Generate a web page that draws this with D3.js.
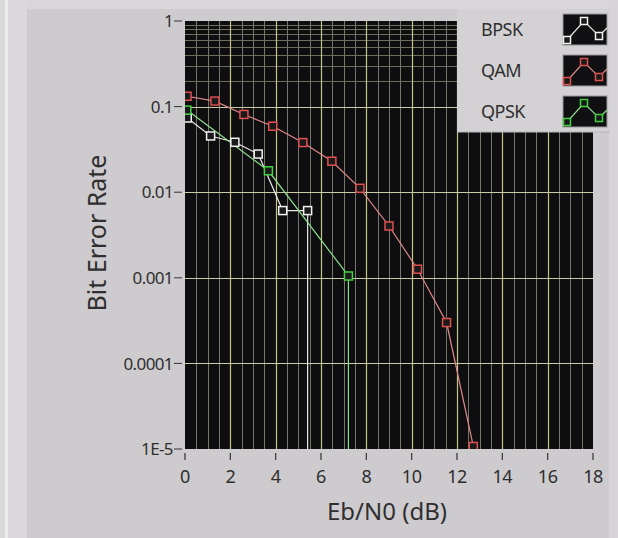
<!DOCTYPE html>
<html>
<head>
<meta charset="utf-8">
<script src="https://cdn.jsdelivr.net/npm/d3@7"></script>
<style>
  body { margin: 0; background: #cecbce; }
  svg text { font-family: "Noto Sans", "Open Sans", sans-serif; fill: #2f2f2f; }
</style>
</head>
<body>
<div id="chart"></div>
<script>
// BER curves
var seriesNames = ["BPSK", "QAM", "QPSK"];
var seriesColors = ["#f2f2f2", "#e05050", "#44d044"];
var lineColors = ["#e8e8e8", "#e08a8a", "#8fe08f"];

var bpskX = [0.1, 1.13, 2.2, 3.23, 4.31, 5.41, 5.41];
var bpskY = [0.0736, 0.0454, 0.0383, 0.0279, 0.0061, 0.0061, 0];

var qamX = [0.09, 1.32, 2.6, 3.87, 5.2, 6.48, 7.72, 9.0, 10.26, 11.54, 12.72];
var qamY = [0.132, 0.116, 0.081, 0.059, 0.038, 0.023, 0.0111, 0.00403, 0.00126, 0.0003, 1.07e-5];

var qpskX = [0.08, 3.68, 7.21, 7.21];
var qpskY = [0.091, 0.0178, 0.00105, 0];

var xTicks = [0, 2, 4, 6, 8, 10, 12, 14, 16, 18];
var yTicks = [1, 0.1, 0.01, 0.001, 0.0001, 1e-5];
var yTickLabels = ["1", "0.1", "0.01", "0.001", "0.0001", "1E-5"];
// minor grid is only drawn in the top decade on the original
var yMinor = [0.9, 0.8, 0.7, 0.6, 0.5, 0.4, 0.3, 0.2];

var svgWidth = 618;
var svgHeight = 538;

var margin = { top: 21, right: 25, bottom: 89, left: 185 };
var width = svgWidth - margin.left - margin.right;
var height = svgHeight - margin.top - margin.bottom;

var svg = d3.select("#chart")
  .append("svg")
  .attr("width", svgWidth)
  .attr("height", svgHeight);

// panel frame (lighter strips on the left and top)
svg.append("rect").attr("x", 0).attr("y", 0).attr("width", svgWidth).attr("height", svgHeight).attr("fill", "#cecbce");
svg.append("rect").attr("x", 0).attr("y", 0).attr("width", 27).attr("height", svgHeight).attr("fill", "#dad8da");
svg.append("rect").attr("x", 5).attr("y", 0).attr("width", 3).attr("height", svgHeight).attr("fill", "#eeedee");
svg.append("rect").attr("x", 27).attr("y", 0).attr("width", svgWidth - 27).attr("height", 9).attr("fill", "#d8d6d8");
svg.append("rect").attr("x", 609).attr("y", 0).attr("width", 9).attr("height", svgHeight).attr("fill", "#d6d4d6");

var chartGroup = svg.append("g")
  .attr("transform", `translate(${margin.left}, ${margin.top})`);

var xScale = d3.scaleLinear().domain([0, 18]).range([0, width]);
var yScale = d3.scaleLog().domain([1e-5, 1]).range([height, 0]);

// plot background
chartGroup.append("rect")
  .attr("width", width)
  .attr("height", height)
  .attr("fill", "#0e0e10");

chartGroup.append("clipPath").attr("id", "plotClip")
  .append("rect").attr("width", width).attr("height", height);

// vertical grid: minor every 0.5, major every 2
var xMinor = d3.range(0.5, 18, 0.5).filter(v => v % 2 !== 0);
chartGroup.append("g").selectAll("line")
  .data(xMinor)
  .enter()
  .append("line")
  .attr("x1", d => Math.round(xScale(d)) + 0.5).attr("x2", d => Math.round(xScale(d)) + 0.5)
  .attr("y1", 0).attr("y2", height)
  .attr("stroke", "#76766a")
  .attr("stroke-width", 1);

chartGroup.append("g").selectAll("line")
  .data(yMinor)
  .enter()
  .append("line")
  .attr("x1", 0).attr("x2", width)
  .attr("y1", d => Math.round(yScale(d)) + 0.5).attr("y2", d => Math.round(yScale(d)) + 0.5)
  .attr("stroke", "#6e6e5c")
  .attr("stroke-width", 1);

chartGroup.append("g").selectAll("line")
  .data(xTicks.slice(1, -1))
  .enter()
  .append("line")
  .attr("x1", d => Math.round(xScale(d)) + 0.5).attr("x2", d => Math.round(xScale(d)) + 0.5)
  .attr("y1", 0).attr("y2", height)
  .attr("stroke", "#c4c488")
  .attr("stroke-width", 1.2);

chartGroup.append("g").selectAll("line")
  .data(yTicks.slice(1, -1))
  .enter()
  .append("line")
  .attr("x1", 0).attr("x2", width)
  .attr("y1", d => Math.round(yScale(d)) + 0.5).attr("y2", d => Math.round(yScale(d)) + 0.5)
  .attr("stroke", "#cacaa6")
  .attr("stroke-width", 1.2);

// series
var seriesData = [
  d3.zip(bpskX, bpskY),
  d3.zip(qamX, qamY),
  d3.zip(qpskX, qpskY)
];

// zero BER falls off the bottom of the log axis
var yFloor = 1e-9;
var line = d3.line()
  .x(d => xScale(d[0]))
  .y(d => yScale(Math.max(d[1], yFloor)));

var plotGroup = chartGroup.append("g").attr("clip-path", "url(#plotClip)");

seriesData.forEach(function(data, i) {
  plotGroup.append("path")
    .datum(data)
    .attr("d", line)
    .attr("fill", "none")
    .attr("stroke", lineColors[i])
    .attr("stroke-width", 1.2);
});

seriesData.forEach(function(data, i) {
  plotGroup.append("g").selectAll("rect")
    .data(data.filter(d => d[1] > 0))
    .enter()
    .append("rect")
    .attr("x", d => xScale(d[0]) - 4)
    .attr("y", d => yScale(d[1]) - 4)
    .attr("width", 8)
    .attr("height", 8)
    .attr("fill", "#1a1a1a")
    .attr("stroke", seriesColors[i])
    .attr("stroke-width", 1.5);
});

// y axis ticks and labels
var yAxisG = chartGroup.append("g");
yAxisG.selectAll("line")
  .data(yTicks)
  .enter()
  .append("line")
  .attr("x1", -11).attr("x2", -3)
  .attr("y1", d => yScale(d)).attr("y2", d => yScale(d))
  .attr("stroke", "#333")
  .attr("stroke-width", 1);

yAxisG.selectAll("text")
  .data(yTicks)
  .enter()
  .append("text")
  .attr("x", -12)
  .attr("y", d => yScale(d))
  .attr("dy", "0.36em")
  .attr("text-anchor", "end")
  .attr("font-size", "17px")
  .attr("letter-spacing", "-0.6px")
  .text((d, i) => yTickLabels[i]);

// x axis ticks and labels
var xAxisG = chartGroup.append("g").attr("transform", `translate(0, ${height})`);
xAxisG.selectAll("line")
  .data(xTicks)
  .enter()
  .append("line")
  .attr("x1", d => xScale(d)).attr("x2", d => xScale(d))
  .attr("y1", 4).attr("y2", 11)
  .attr("stroke", "#333")
  .attr("stroke-width", 1.2);

xAxisG.selectAll("text")
  .data(xTicks)
  .enter()
  .append("text")
  .attr("x", d => xScale(d))
  .attr("y", 34)
  .attr("text-anchor", "middle")
  .attr("font-size", "18px")
  .attr("letter-spacing", "-0.5px")
  .text(d => d);

// axis titles
svg.append("text")
  .attr("transform", `translate(106, ${margin.top + height / 2 - 2}) rotate(-90)`)
  .attr("text-anchor", "middle")
  .attr("font-size", "25px")
  .attr("fill", "#444")
  .text("Bit Error Rate");

svg.append("text")
  .attr("x", 387)
  .attr("y", 520)
  .attr("text-anchor", "middle")
  .attr("font-size", "24px")
  .attr("fill", "#444")
  .text("Eb/N0 (dB)");

// legend panel
var legend = svg.append("g");
legend.append("rect")
  .attr("x", 457).attr("y", 9)
  .attr("width", 153).attr("height", 123)
  .attr("fill", "#d3d1d3");
legend.append("line")
  .attr("x1", 457).attr("x2", 610).attr("y1", 132).attr("y2", 132)
  .attr("stroke", "#b8b6b8");

var swatchX = 563, swatchW = 44, swatchH = 31;
var swatchPts = [[0, 25], [4, 26], [21, 7], [36, 22], [44, 14]];
var swatchLine = d3.line().x(d => d[0]).y(d => d[1]);

seriesNames.forEach(function(name, i) {
  var top = 14 + i * 41;
  legend.append("text")
    .attr("x", 481)
    .attr("y", top + 22)
    .attr("font-size", "18px")
    .attr("letter-spacing", "-0.5px")
    .text(name);

  var sw = legend.append("g").attr("transform", `translate(${swatchX}, ${top})`);
  sw.append("rect")
    .attr("width", swatchW).attr("height", swatchH)
    .attr("fill", "#101012")
    .attr("stroke", "#9a989a");
  sw.append("path")
    .attr("d", swatchLine(swatchPts))
    .attr("fill", "none")
    .attr("stroke", lineColors[i])
    .attr("stroke-width", 1.2);
  sw.selectAll("rect.mk")
    .data([swatchPts[1], swatchPts[2], swatchPts[3]])
    .enter()
    .append("rect")
    .attr("class", "mk")
    .attr("x", d => d[0] - 3.5).attr("y", d => d[1] - 3.5)
    .attr("width", 7).attr("height", 7)
    .attr("fill", "#1a1a1a")
    .attr("stroke", seriesColors[i])
    .attr("stroke-width", 1.5);
});
</script>
</body>
</html>
